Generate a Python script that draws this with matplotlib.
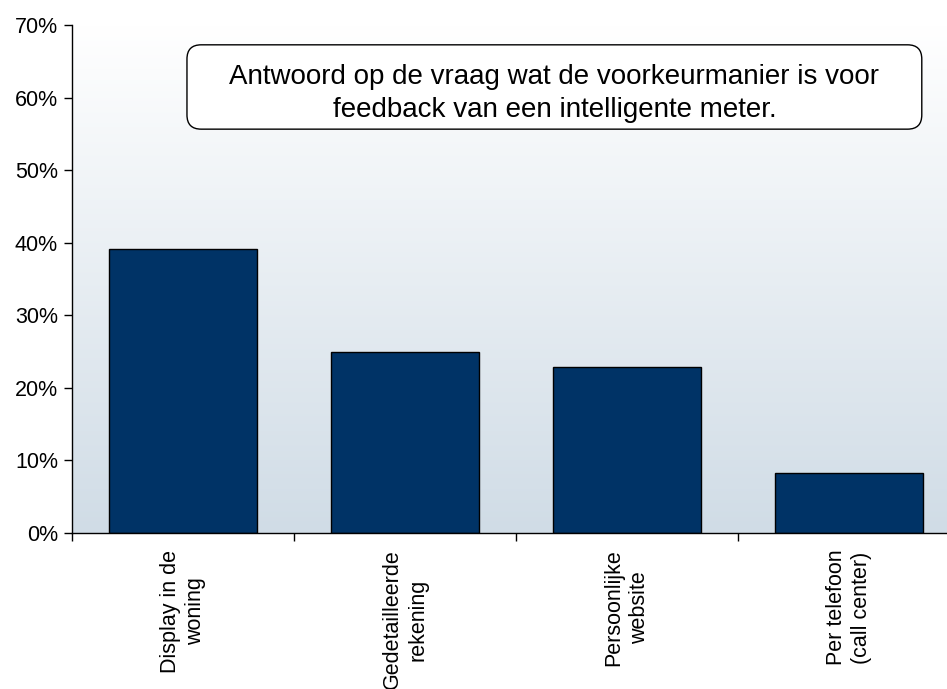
import numpy as np
import matplotlib
matplotlib.use("Agg")
import matplotlib.pyplot as plt
from matplotlib.patches import FancyBboxPatch
from matplotlib.ticker import FuncFormatter

plt.rcParams['font.family'] = ['Liberation Sans', 'DejaVu Sans']

categories = ["Display in de\nwoning", "Gedetailleerde\nrekening", "Persoonlijke\nwebsite", "Per telefoon\n(call center)"]
values = [0.391, 0.249, 0.229, 0.083]
title = "Antwoord op de vraag wat de voorkeurmanier is voor\nfeedback van een intelligente meter."

fig = plt.figure(figsize=(9.47, 6.89), dpi=100)
ax = fig.add_axes([0.076, 0.2264, 0.9377, 0.7373])

x = np.arange(len(categories))
ax.set_xlim(-0.5, len(categories) - 0.5)
ax.set_ylim(0, 0.7)

# background gradient, white at top to pale blue-grey at bottom
grad = np.linspace(0, 1, 256).reshape(-1, 1)
top = np.array([1.0, 1.0, 1.0])
bot = np.array([208, 220, 230]) / 255
img = bot + (top - bot) * grad
ax.imshow(img.reshape(256, 1, 3), extent=[-0.5, len(categories) - 0.5, 0, 0.7],
          aspect='auto', zorder=0, origin='lower')

ax.bar(x, values, width=0.667, color='#003366', edgecolor='black', linewidth=1, zorder=2)

ax.set_yticks(np.arange(0, 0.71, 0.1))
ax.yaxis.set_major_formatter(FuncFormatter(lambda v, p: f"{v*100:.0f}%"))
ax.tick_params(axis='y', labelsize=15.5, length=6, width=1, direction='out', pad=4)

ax.set_xticks(x)
ax.set_xticklabels(categories, rotation=90, fontsize=15.5, ha='center', va='top',
                   multialignment='center', linespacing=1.3)
ax.tick_params(axis='x', which='major', length=0, pad=12)
ax.set_xticks(np.arange(-0.5, len(categories) - 0.5, 1), minor=True)
ax.tick_params(axis='x', which='minor', length=6, width=1, direction='out')

for s in ['top', 'right']:
    ax.spines[s].set_visible(False)
for s in ['left', 'bottom']:
    ax.spines[s].set_color('black')
    ax.spines[s].set_linewidth(1)

box = FancyBboxPatch((0.1295, 0.795), 0.957 - 0.1295, 0.961 - 0.795,
                     boxstyle="round,pad=0,rounding_size=0.016",
                     transform=ax.transAxes, facecolor='white', edgecolor='black',
                     linewidth=1, zorder=3, mutation_aspect=1.75)
ax.add_patch(box)
ax.text((0.1295 + 0.957) / 2, (0.795 + 0.961) / 2 - 0.013, title, transform=ax.transAxes,
        ha='center', va='center', fontsize=20, linespacing=1.38, zorder=4)

fig.savefig("out.png", dpi=100)
